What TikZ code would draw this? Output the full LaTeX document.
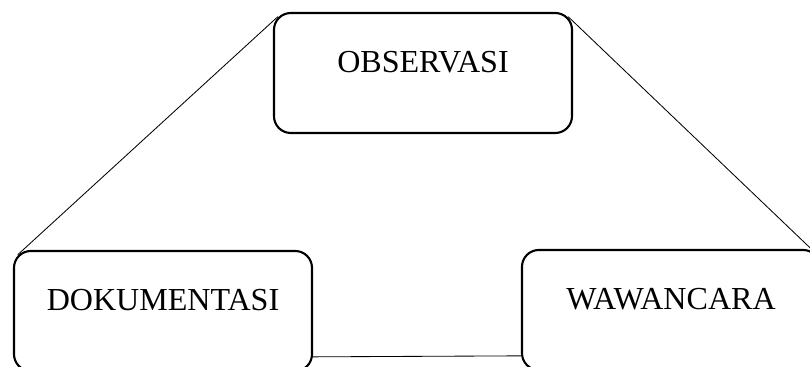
\documentclass[tikz,border=0pt]{standalone}
\usepackage{fontspec}
\setmainfont{Liberation Serif}
\tikzset{kotak/.style={draw,line width=1.5pt,rounded corners=0.42cm,minimum width=7.45cm,minimum height=3cm,font=\fontsize{22.8}{27}\selectfont,text height=0.66em,text depth=0.27cm}}
\begin{document}
\begin{tikzpicture}
\useasboundingbox (0,0) rectangle (20.25,9.175);
\begin{scope}
\clip (0,0) rectangle (20.25,9.175);
\node[kotak] (obs) at (10.575,7.35) {OBSERVASI};
\node[kotak] (dok) at (4.075,1.4) {DOKUMENTASI};
\node[kotak] (waw) at (16.775,1.425) {WAWANCARA};
\draw [line width=0.6pt] ([shift={(0.12,-0.12)}]obs.north west) -- ([shift={(0.12,-0.12)}]dok.north west);
\draw [line width=0.6pt] ([shift={(-0.12,-0.12)}]obs.north east) -- ([shift={(-0.12,-0.12)}]waw.north east);
\draw [line width=0.6pt] ([yshift=0.38cm]dok.south east) -- ([yshift=0.38cm]waw.south west);
\end{scope}
\end{tikzpicture}
\end{document}
